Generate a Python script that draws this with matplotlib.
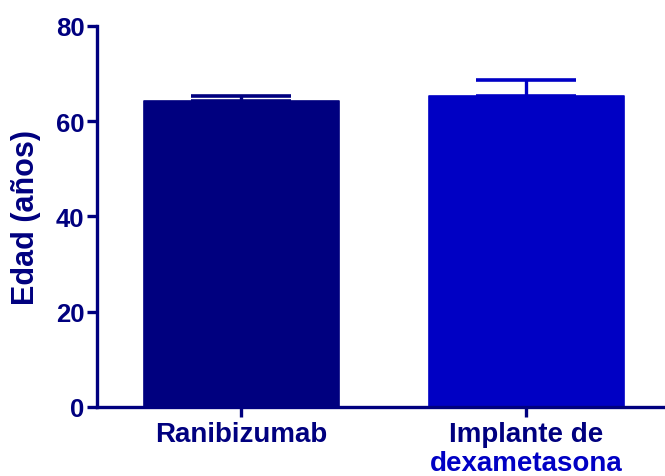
import matplotlib.pyplot as plt

plt.rcParams['font.family'] = ['Liberation Sans', 'DejaVu Sans']
plt.rcParams['font.weight'] = 'bold'

groups = ["Ranibizumab", "Implante de"]
group_second_line = ["", "dexametasona"]
means = [64.3, 65.4]
upper_err = [1.1, 3.3]
colors = ["#00007f", "#0000c4"]
label_colors = ["#00007f", "#00007f"]
navy = "#00007f"

fig = plt.figure(figsize=(6.65, 4.77), dpi=100)
ax = fig.add_axes([0.1459, 0.1447, 0.854, 0.7987])

x = list(range(len(groups)))
for i in x:
    ax.errorbar(i, means[i], yerr=[[0], [upper_err[i]]], color=colors[i],
                elinewidth=2.4, capsize=36, capthick=2.6, zorder=1,
                solid_capstyle='round')
    ax.bar(i, means[i], width=0.684, color=colors[i], edgecolor=colors[i],
           linewidth=1.2, joinstyle='round', zorder=2)

ax.set_xlim(-0.507, 1.486)
ax.set_ylim(0, 80)
ax.set_yticks([0, 20, 40, 60, 80])
ax.set_xticks(x)
ax.set_xticklabels(groups, fontsize=20, fontweight='bold')
for lbl, c in zip(ax.get_xticklabels(), label_colors):
    lbl.set_color(c)

# second line of the dexamethasone label is drawn in its bar colour
for i, txt in enumerate(group_second_line):
    if txt:
        ax.annotate(txt, xy=(i, 0), xycoords=('data', 'axes fraction'),
                    xytext=(0, -31), textcoords='offset points',
                    ha='center', va='top', fontsize=20, fontweight='bold',
                    color=colors[i])

ax.set_ylabel("Edad (años)", fontsize=22, fontweight='bold', color=navy,
              labelpad=11)

for side in ['top', 'right']:
    ax.spines[side].set_visible(False)
for side in ['left', 'bottom']:
    ax.spines[side].set_linewidth(2.4)
    ax.spines[side].set_color(navy)

ax.tick_params(axis='both', colors=navy, width=2.4, length=7)
ax.tick_params(axis='y', labelsize=18.5, pad=2)
ax.tick_params(axis='x', pad=3)
for lbl in ax.get_yticklabels():
    lbl.set_fontweight('bold')

plt.savefig("out.png", dpi=100)
plt.close()
